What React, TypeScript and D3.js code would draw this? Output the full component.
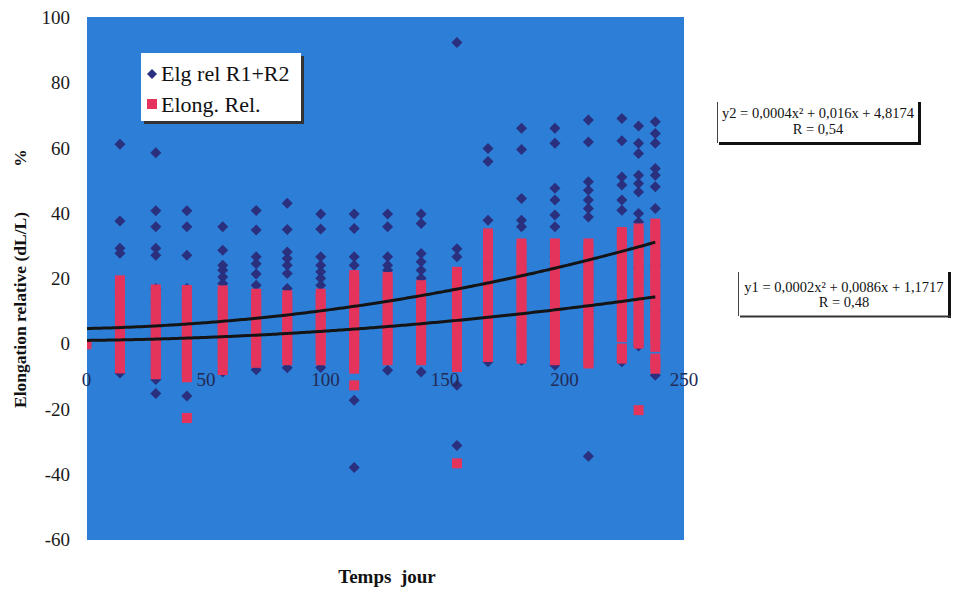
import React from "react";
import * as d3 from "d3";

// ---- Data ----
const days = [0, 14, 29, 42, 57, 71, 84, 98, 112, 126, 140, 155, 168, 182, 196, 210, 224, 231, 238];

const elgR1R2: number[][] = [
  [0],
  [61.3, 37.8, 29.4, 27.9, 16.3, 8, 2, -3, -8.8],
  [58.7, 40.9, 36, 29.4, 27.3, 17.1, 12.6, 5, -2, -10.8, -15.1],
  [40.9, 36, 27.3, 17.1, 11.4, 3, -15.9],
  [36, 28.8, 24.2, 22.7, 20.6, 18.6, 7, -8.5],
  [41, 35, 26.8, 24.7, 21.5, 18.1, 6, -7.8],
  [43.2, 35.2, 28.3, 26.3, 24.2, 21.7, 17.1, 5, -7.2],
  [39.9, 35.3, 26.8, 24.2, 22.2, 20.2, 18.1, 4, -7.1],
  [39.9, 35.5, 26.8, 24.2, 16.6, 5, -17.2, -37.8],
  [39.9, 36, 26.8, 24.2, 22.7, 6, -8],
  [39.9, 37, 27.8, 25.3, 22.7, 20.2, 6, -8.5],
  [92.5, 29.3, 26.8, 16.1, 5, -12.6, -31],
  [60, 56, 38, 30.4, 24.8, 22.7, 10, -5.4],
  [66.2, 59.7, 44.7, 38, 36, 23.7, 10, -4.9],
  [66.2, 61.6, 47.8, 44.2, 39.6, 36, 26.8, 24.8, 10, -6.4],
  [68.7, 62, 49.8, 47.2, 44.2, 41.6, 39, 24.8, 10, -34.3],
  [69.2, 62.4, 51.3, 48.8, 44.2, 41.1, 15, -5.4],
  [66.9, 61.6, 58.5, 51.8, 49.3, 46.7, 40.1, 37.5, 29.8, 23.2, 10, -0.5],
  [68.2, 64.6, 61.6, 53.9, 51.8, 48.3, 41.6, 24.2, 10, -9.5],
];

const elongRel: number[][] = [
  [0],
  [19.6, 17.8, 16.1, 14.9, 12.7, 11.2, 9.4, 7.9, 6.1, 4.2, 2.8, 1.0, -0.6, -2.3, -3.9, -5.5, -7.4],
  [16.8, 15.2, 13.4, 11.9, 10.1, 8.3, 6.8, 5.0, 3.3, 1.7, 0.1, -1.6, -3.2, -4.9, -6.6, -8.0, -9.2],
  [16.6, 14.9, 13.1, 11.6, 9.8, 8.1, 6.5, 4.7, 3.0, 1.4, -0.3, -2.0, -3.7, -5.3, -7.0, -8.6, -10.1, -22.6],
  [16.5, 14.8, 13.0, 11.4, 9.7, 8.0, 6.3, 4.6, 2.9, 1.2, -0.5, -2.2, -3.9, -5.6, -7.9],
  [15.5, 13.8, 12.1, 10.4, 8.8, 7.0, 5.3, 3.7, 2.0, 0.3, -1.4, -3.1, -4.6, -5.7],
  [15.0, 13.3, 11.7, 10.0, 8.2, 6.6, 4.9, 3.1, 1.5, -0.1, -1.8, -3.4, -4.9],
  [15.5, 13.9, 12.2, 10.5, 8.7, 7.1, 5.4, 3.6, 2.0, 0.3, -1.4, -3.1, -4.9],
  [21.2, 19.4, 17.8, 16.0, 14.3, 12.6, 10.9, 9.1, 7.5, 5.8, 4.0, 2.3, 0.7, -1.0, -2.7, -4.3, -6.0, -7.5, -12.6],
  [20.6, 18.9, 17.1, 15.4, 13.8, 12.0, 10.3, 8.6, 6.9, 5.2, 3.5, 1.8, 0.1, -1.6, -3.3, -4.9],
  [18.1, 16.4, 14.7, 13.0, 11.3, 9.6, 7.9, 6.2, 4.5, 2.8, 1.1, -0.6, -2.3, -4.0, -4.9],
  [22.2, 20.5, 18.8, 17.1, 15.4, 13.7, 12.0, 10.3, 8.6, 6.9, 5.2, 3.5, 1.8, 0.1, -1.6, -3.3, -5.0, -7.0, -36.5],
  [34.0, 32.3, 30.6, 28.9, 27.1, 25.4, 23.7, 22.0, 20.3, 18.5, 16.8, 15.1, 13.4, 11.7, 10.0, 8.2, 6.5, 4.8, 3.1, 1.4, -0.3, -2.0, -3.9],
  [30.9, 29.2, 27.5, 25.8, 24.1, 22.4, 20.6, 18.9, 17.2, 15.5, 13.8, 12.1, 10.4, 8.6, 6.9, 5.2, 3.5, 1.8, 0.1, -1.6, -3.2, -4.4],
  [30.9, 29.1, 27.4, 25.7, 24.0, 22.3, 20.5, 18.8, 17.1, 15.4, 13.7, 12.0, 10.2, 8.5, 6.8, 5.1, 3.4, 1.7, 0.0, -1.7, -3.4, -4.9],
  [30.9, 29.2, 27.4, 25.7, 24.0, 22.3, 20.6, 18.9, 17.1, 15.4, 13.7, 12.0, 10.3, 8.5, 6.8, 5.1, 3.4, 1.7, 0.0, -1.7, -3.5, -5.2, -5.9],
  [34.4, 32.7, 31.0, 29.3, 27.5, 25.8, 24.1, 22.4, 20.7, 19.0, 17.2, 15.5, 13.8, 12.1, 10.4, 8.7, 6.9, 5.2, 3.5, 2.2, -1.3, -2.9, -4.4],
  [35.5, 33.8, 32.1, 30.4, 28.6, 26.9, 25.2, 23.5, 21.8, 20.1, 18.3, 16.6, 14.9, 13.2, 11.5, 9.8, 8.0, 6.3, 4.6, 2.9, 1.2, 0.2, -20.2],
  [37.0, 35.3, 33.6, 31.9, 29.0, 27.4, 25.7, 24.0, 22.3, 20.5, 18.8, 17.1, 15.4, 13.7, 12.0, 10.2, 8.5, 6.8, 5.1, 3.4, 1.7, -0.8, -4.4, -6.0, -7.5],
];

// trendline coefficients (as printed): a x^2 + b x + c
const trend2 = [0.0004, 0.016, 4.8174];
const trend1 = [0.0002, 0.0086, 1.1717];
const trendSpan = [0, 238];

const xTicks = [0, 50, 100, 150, 200, 250];
const yTicks = [100, 80, 60, 40, 20, 0, -20, -40, -60];

const seriesNames = ["Elg rel R1+R2", "Elong. Rel."];
const eq2 = ["y2 = 0,0004x² + 0,016x + 4,8174", "R = 0,54"];
const eq1 = ["y1 = 0,0002x² + 0,0086x + 1,1717", "R = 0,48"];
const xTitle = "Temps  jour";
const yTitle = "Elongation relative (dL/L)";
const yUnit = "%";

// ---- Styles ----
const W = 953, H = 591;
const PLOT = { left: 87, right: 684, top: 17, bottom: 540 };
const BG = "#2c7ed6";
const NAVY = "#2a2f7e";
const PINK = "#e5345c";
const FONT = "Liberation Serif, Times New Roman, serif";

export default function App() {
  const x = d3.scaleLinear().domain([0, 250]).range([86.5, 684]);
  const y = d3.scaleLinear().domain([-60, 100]).range([540, 18]);

  const blues = days.flatMap((d, i) => elgR1R2[i].map((v) => [d, v] as [number, number]));
  const pinks = days.flatMap((d, i) => elongRel[i].map((v) => [d, v] as [number, number]));

  const poly = (c: number[]) => (t: number) => c[0] * t * t + c[1] * t + c[2];
  const trendPts = (c: number[]) => d3.range(trendSpan[0], trendSpan[1] + 0.5, 2).map((t) => [t, poly(c)(t)] as [number, number]);
  const line = d3.line<[number, number]>().x((p) => x(p[0])).y((p) => y(p[1])).curve(d3.curveBasis);

  const diamond = (cx: number, cy: number, r: number) => `M${cx},${cy - r}L${cx + r},${cy}L${cx},${cy + r}L${cx - r},${cy}Z`;

  return (
    <div style={{ position: "absolute", left: 0, top: 0 }}>
      <svg width={W} height={H} style={{ display: "block", background: "#fff" }}>
        <defs>
          <clipPath id="plotclip">
            <rect x={PLOT.left} y={PLOT.top} width={PLOT.right - PLOT.left} height={PLOT.bottom - PLOT.top} />
          </clipPath>
        </defs>
        <rect x={PLOT.left} y={PLOT.top} width={PLOT.right - PLOT.left} height={PLOT.bottom - PLOT.top} fill={BG} />

        <g clipPath="url(#plotclip)">
          {blues.map(([d, v], i) => (
            <path key={"b" + i} d={diamond(x(d), y(v), 5.5)} fill={NAVY} />
          ))}
          {pinks.map(([d, v], i) => (
            <rect key={"p" + i} x={x(d) - 5} y={y(v) - 5} width={10} height={10} fill={PINK} />
          ))}
          <path d={line(trendPts(trend2)) || ""} fill="none" stroke="#141414" strokeWidth={3} />
          <path d={line(trendPts(trend1)) || ""} fill="none" stroke="#141414" strokeWidth={3} />
        </g>

        {/* x tick labels */}
        {xTicks.map((t) => (
          <text key={"xt" + t} x={x(t)} y={386} textAnchor="middle" fontFamily={FONT} fontSize={19} fill="#222a55">
            {t}
          </text>
        ))}
        {/* y tick labels */}
        {yTicks.map((t) => (
          <text key={"yt" + t} x={70} y={y(t) + 6} textAnchor="end" fontFamily={FONT} fontSize={19} fill="#1a1a1a">
            {t}
          </text>
        ))}

        {/* axis titles */}
        <text x={387} y={583} textAnchor="middle" fontFamily={FONT} fontSize={19} fontWeight="bold" fill="#111" style={{ whiteSpace: "pre" }}>
          {xTitle}
        </text>
        <text transform="translate(26,408) rotate(-90)" textAnchor="start" fontFamily={FONT} fontSize={17.5} fontWeight="bold" fill="#111">
          {yTitle}
        </text>
        <text transform="translate(26,158) rotate(-90)" textAnchor="middle" fontFamily={FONT} fontSize={17.5} fontWeight="bold" fill="#111">
          {yUnit}
        </text>

        {/* legend */}
        <rect x={144} y={56} width={160} height={68} fill="#333" />
        <rect x={141} y={53} width={160} height={68} fill="#fff" />
        <path d={diamond(152, 74, 5)} fill={NAVY} />
        <rect x={147} y={99} width={10} height={10} fill={PINK} />
        <text x={161} y={81} fontFamily={FONT} fontSize={22} fill="#111">{seriesNames[0]}</text>
        <text x={161} y={112} fontFamily={FONT} fontSize={22} fill="#111">{seriesNames[1]}</text>

        {/* equation box 2 */}
        <rect x={717} y={102} width={203} height={41} fill="#fff" />
        <line x1={717.5} y1={102} x2={717.5} y2={143} stroke="#444" strokeWidth={1} />
        <line x1={919.5} y1={102} x2={919.5} y2={145} stroke="#111" strokeWidth={3} />
        <line x1={719} y1={143.5} x2={921} y2={143.5} stroke="#111" strokeWidth={3} />
        <text x={818} y={118} textAnchor="middle" fontFamily={FONT} fontSize={14.5} fill="#111">{eq2[0]}</text>
        <text x={818} y={134} textAnchor="middle" fontFamily={FONT} fontSize={14.5} fill="#111">{eq2[1]}</text>

        {/* equation box 1 */}
        <rect x={738} y={272} width={212} height={44} fill="#fff" />
        <line x1={738.5} y1={272} x2={738.5} y2={316} stroke="#444" strokeWidth={1} />
        <line x1={949.5} y1={272} x2={949.5} y2={318} stroke="#111" strokeWidth={3} />
        <line x1={740} y1={316.5} x2={951} y2={316.5} stroke="#333" strokeWidth={2} />
        <text x={844} y={292} textAnchor="middle" fontFamily={FONT} fontSize={14.5} fill="#111">{eq1[0]}</text>
        <text x={844} y={307} textAnchor="middle" fontFamily={FONT} fontSize={14.5} fill="#111">{eq1[1]}</text>
      </svg>
    </div>
  );
}
